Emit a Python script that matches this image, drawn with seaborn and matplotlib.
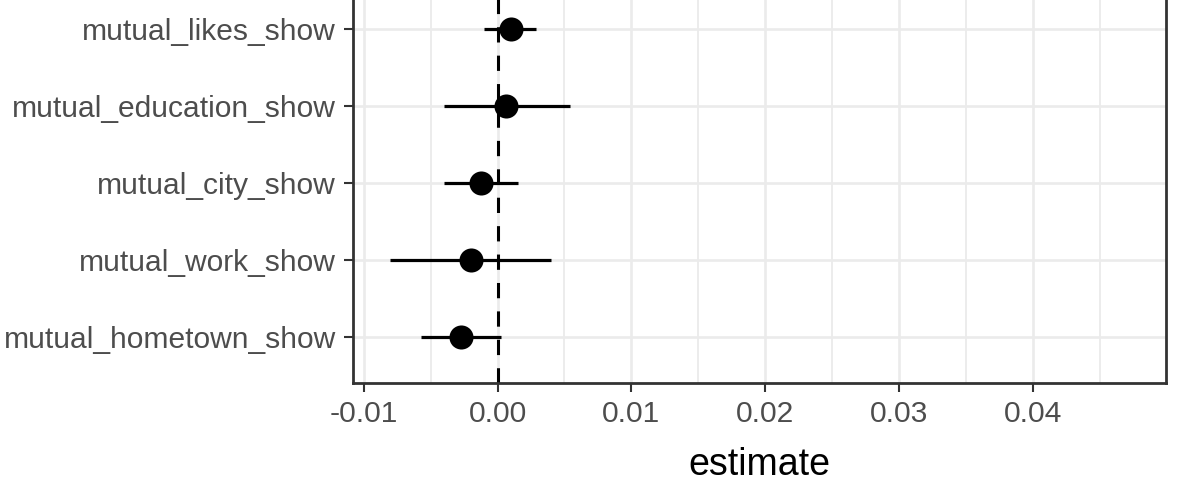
import numpy as np
import pandas as pd
import matplotlib
matplotlib.use("Agg")
import matplotlib.pyplot as plt
import seaborn as sns

# ---- data ----
terms = ["mutual_hometown_show", "mutual_work_show", "mutual_city_show",
         "mutual_education_show", "mutual_likes_show"]
estimate = [-0.00275, -0.0020, -0.00124, 0.00067, 0.00099]
conf_low = [-0.0057, -0.00806, -0.00397, -0.00397, -0.00102]
conf_high = [0.00025, 0.00401, 0.00153, 0.00538, 0.0029]
x_ticks = [-0.01, 0.0, 0.01, 0.02, 0.03, 0.04]
x_tick_labels = ["-0.01", "0.00", "0.01", "0.02", "0.03", "0.04"]
x_minor = [-0.005, 0.005, 0.015, 0.025, 0.035, 0.045]
x_label = "estimate"

df = pd.DataFrame({"term": terms, "estimate": estimate,
                   "conf_low": conf_low, "conf_high": conf_high})
df["pos"] = np.arange(len(df))

sns.set_theme(style="white")
plt.rcParams["font.family"] = ["Liberation Sans", "DejaVu Sans"]

W, H = 1181, 500
fig = plt.figure(figsize=(W / 100, H / 100), dpi=100)
left_px, right_px, bottom_px, top_px = 352.7, 1165.7, 383.3, -40
ax = fig.add_axes([left_px / W, (H - bottom_px) / H,
                   (right_px - left_px) / W, (bottom_px - top_px) / H])

row_px = 77.1
ax.set_xlim(-0.010814, 0.0499)
ax.set_ylim(-0.6, -0.6 + (bottom_px - top_px) / row_px)

# grid
ax.set_xticks(x_ticks)
ax.set_xticklabels(x_tick_labels)
ax.set_xticks(x_minor, minor=True)
ax.set_yticks(df["pos"])
ax.set_yticklabels(df["term"])
ax.grid(which="major", color="#EBEBEB", linewidth=1.9, zorder=0)
ax.grid(which="minor", axis="x", color="#EBEBEB", linewidth=1.3, zorder=0)
ax.set_axisbelow(True)

# zero line
ax.axvline(0, color="black", linewidth=2.2, linestyle=(0, (5.0, 4.3)), zorder=2)

# intervals and points
ax.hlines(y=df["pos"], xmin=df["conf_low"], xmax=df["conf_high"],
          color="black", linewidth=2.3, zorder=3)
sns.scatterplot(data=df, x="estimate", y="pos", s=300, color="black",
                linewidth=0, zorder=4, ax=ax, legend=False)

ax.set_ylabel("")
ax.set_xlabel(x_label, fontsize=27, color="black", labelpad=14)

for s in ax.spines.values():
    s.set_color("#333333")
    s.set_linewidth(2.0)
    s.set_visible(True)

ax.tick_params(axis="both", which="major", direction="out", length=6.5,
               width=1.5, color="#333333", labelcolor="#4D4D4D", labelsize=21.6)
ax.tick_params(axis="y", which="major", pad=5.5, left=True)
ax.tick_params(axis="x", which="major", pad=5.5, bottom=True)
ax.tick_params(which="minor", length=0)

fig.savefig("out.png", dpi=100)
